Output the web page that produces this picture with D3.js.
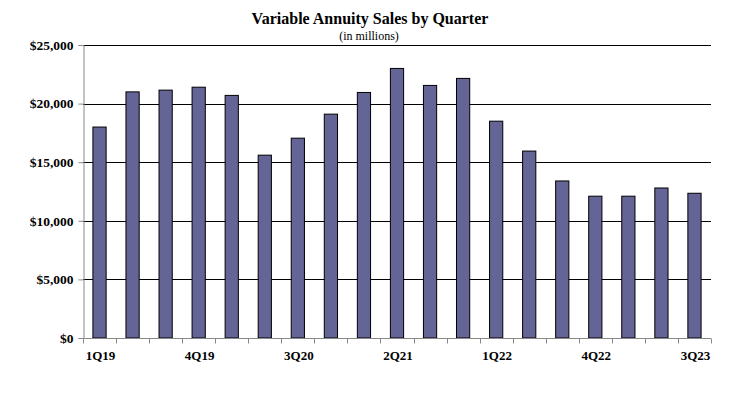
<!DOCTYPE html>
<html>
<head>
<meta charset="utf-8">
<script src="https://cdn.jsdelivr.net/npm/d3@7"></script>
<style>
  body { margin: 0; background: #fff; }
</style>
</head>
<body>
<div id="chart"></div>
<script>
  'use strict';

  var quarters = ['1Q19', '2Q19', '3Q19', '4Q19', '1Q20', '2Q20', '3Q20', '4Q20', '1Q21', '2Q21',
    '3Q21', '4Q21', '1Q22', '2Q22', '3Q22', '4Q22', '1Q23', '2Q23', '3Q23'];
  var sales = [18000, 21000, 21150, 21400, 20700, 15600, 17050, 19100, 20950, 23000,
    21550, 22150, 18500, 15950, 13400, 12100, 12100, 12800, 12350];
  var shownLabels = ['1Q19', '4Q19', '3Q20', '2Q21', '1Q22', '4Q22', '3Q23'];
  var yTicks = [0, 5000, 10000, 15000, 20000, 25000];

  var serif = "'Liberation Serif', serif";
  var width = 731, height = 399;
  var margin = {top: 45, right: 20, bottom: 61, left: 83};
  var plotW = width - margin.left - margin.right;
  var plotH = height - margin.top - margin.bottom;

  var svg = d3.select('#chart')
    .append('svg')
    .attr('width', width)
    .attr('height', height);

  // titles
  svg.append('text')
    .text('Variable Annuity Sales by Quarter')
    .attr('x', 370)
    .attr('y', 24)
    .attr('text-anchor', 'middle')
    .style('font-family', serif)
    .style('font-size', '16px')
    .style('font-weight', 'bold');

  svg.append('text')
    .text('(in millions)')
    .attr('x', 369)
    .attr('y', 40)
    .attr('text-anchor', 'middle')
    .style('font-family', serif)
    .style('font-size', '12px');

  var x = d3.scaleBand()
    .domain(quarters)
    .range([0, plotW])
    .paddingInner(0.6)
    .paddingOuter(0.3);

  var y = d3.scaleLinear()
    .domain([0, 25000])
    .range([plotH, 0]);

  var viz = svg.append('g')
    .attr('transform', 'translate(' + margin.left + ',' + margin.top + ')');

  // gridlines
  viz.append('g')
    .selectAll('line')
    .data(yTicks.slice(1))
    .enter()
    .append('line')
    .attr('x1', 0)
    .attr('x2', plotW)
    .attr('y1', function (d) { return Math.round(y(d)) + 0.5; })
    .attr('y2', function (d) { return Math.round(y(d)) + 0.5; })
    .attr('stroke', '#000')
    .attr('stroke-width', 1);

  // bars
  viz.append('g')
    .selectAll('rect')
    .data(sales)
    .enter()
    .append('rect')
    .attr('x', function (d, i) { return x(quarters[i]); })
    .attr('y', function (d) { return y(d); })
    .attr('width', x.bandwidth())
    .attr('height', function (d) { return plotH - y(d); })
    .attr('fill', '#646496')
    .attr('stroke', '#000')
    .attr('stroke-width', 1);

  // y axis
  var yAxis = viz.append('g')
    .attr('transform', 'translate(0.5,0)')
    .call(d3.axisLeft(y)
      .tickValues(yTicks)
      .tickSize(5)
      .tickPadding(5)
      .tickFormat(function (d) { return '$' + d3.format(',')(d); }));
  yAxis.attr('font-family', null);
  yAxis.select('.domain').attr('stroke', '#888');
  yAxis.selectAll('.tick line').attr('stroke', '#888');
  yAxis.selectAll('text')
    .style('font-family', serif)
    .style('font-size', '13.5px')
    .style('font-weight', 'bold')
    .attr('fill', '#000');

  // x axis: ticks at category boundaries
  var step = x.step();
  var boundaries = d3.range(quarters.length + 1).map(function (i) {
    return x(quarters[0]) - x.paddingInner() * step / 2 + i * step;
  });
  var xAxis = viz.append('g')
    .attr('transform', 'translate(0,' + (plotH + 0.5) + ')');
  xAxis.append('line')
    .attr('x1', 0)
    .attr('x2', plotW)
    .attr('stroke', '#888');
  xAxis.selectAll('line.tick')
    .data(boundaries)
    .enter()
    .append('line')
    .attr('class', 'tick')
    .attr('x1', function (d) { return Math.round(d) + 0.5; })
    .attr('x2', function (d) { return Math.round(d) + 0.5; })
    .attr('y1', 0)
    .attr('y2', 5)
    .attr('stroke', '#888');
  xAxis.selectAll('text')
    .data(shownLabels)
    .enter()
    .append('text')
    .text(function (d) { return d; })
    .attr('x', function (d) { return x(d) + x.bandwidth() / 2 + 1; })
    .attr('y', 21.5)
    .attr('text-anchor', 'middle')
    .style('font-family', serif)
    .style('font-size', '13px')
    .style('font-weight', 'bold');
</script>
</body>
</html>
